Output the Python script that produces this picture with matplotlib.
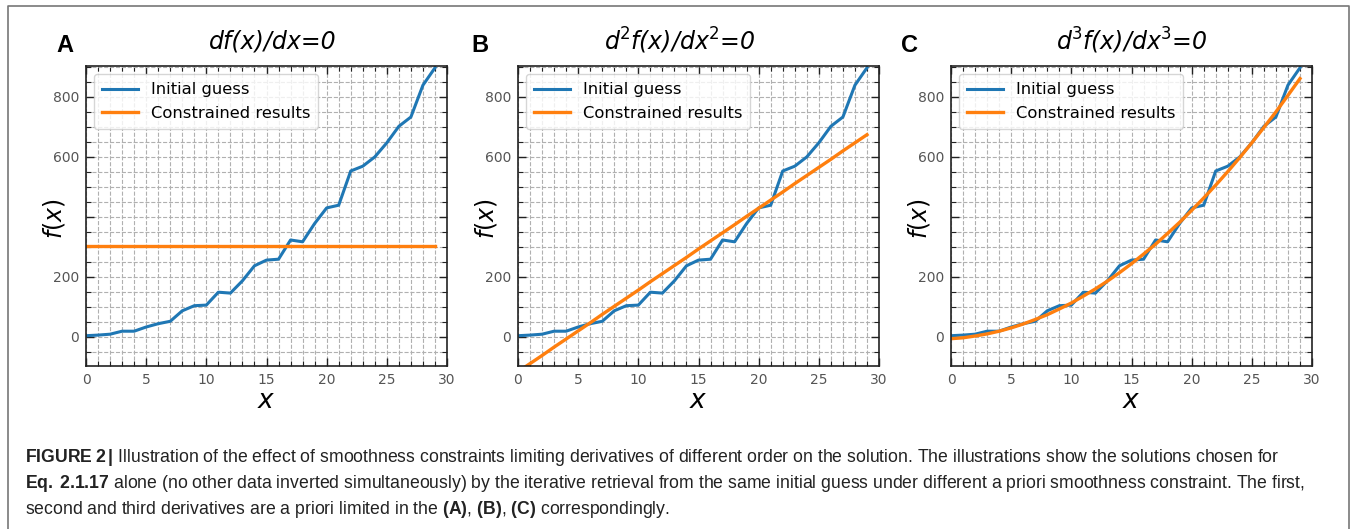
import matplotlib
matplotlib.use("Agg")
import matplotlib.pyplot as plt
import matplotlib.ticker as ticker
from matplotlib.lines import Line2D

W, H = 1356, 529

# ── Data ──────────────────────────────────────────────────────────────────────
x_vals = list(range(30))
initial_guess = [4, 6, 9, 19, 19, 33, 44, 52, 87, 104, 106, 149, 146, 187, 237,
                 256, 259, 323, 317, 378, 430, 439, 553, 569, 600, 647, 702, 733,
                 839, 897]
constrained_1st = [302] * 30
constrained_2nd = [-116, -89, -62, -34, -7, 20, 47, 75, 102, 129, 156, 184, 211,
                   238, 265, 293, 320, 347, 374, 402, 429, 456, 483, 511, 538, 565,
                   592, 620, 647, 674]
constrained_3rd = [-6, -3, 3, 10, 19, 30, 43, 58, 74, 93, 113, 136, 160, 186, 214,
                   244, 276, 309, 345, 382, 422, 463, 506, 551, 598, 647, 698, 750,
                   805, 861]

panels = ["A", "B", "C"]
titles = ["df(x)/dx=0", "d$^2$f(x)/dx$^2$=0", "d$^3$f(x)/dx$^3$=0"]
results = [constrained_1st, constrained_2nd, constrained_3rd]
ytick_vals = [0, 200, 400, 600, 800]
ytick_labels = ["0", "200", "", "600", "800"]

caption = [
    r"$\mathbf{FIGURE\;2\,|}$ Illustration of the effect of smoothness constraints limiting derivatives of different order on the solution. The illustrations show the solutions chosen for",
    r"$\mathbf{Eq.\;2.1.17}$ alone (no other data inverted simultaneously) by the iterative retrieval from the same initial guess under different a priori smoothness constraint. The first,",
    r"second and third derivatives are a priori limited in the $\mathbf{(A)}$, $\mathbf{(B)}$, $\mathbf{(C)}$ correspondingly.",
]

# ── Layout (pixels) ───────────────────────────────────────────────────────────
ax_left = [86, 518, 951]
ax_top, ax_w, ax_h = 66, 361, 300
letter_x = [65, 480, 910]
title_x = [273, 680, 1132]

cap_font = "Liberation Sans"
plt.rcParams["mathtext.fontset"] = "custom"
plt.rcParams["mathtext.rm"] = cap_font
plt.rcParams["mathtext.bf"] = cap_font + ":bold"
plt.rcParams["mathtext.it"] = cap_font + ":italic"

fig = plt.figure(figsize=(W / 100, H / 100), dpi=100, facecolor="white")

for i in range(3):
    ax = fig.add_axes([ax_left[i] / W, 1 - (ax_top + ax_h) / H, ax_w / W, ax_h / H])
    ax.plot(x_vals, initial_guess, color="#1f77b4", linewidth=2.2, label="Initial guess")
    ax.plot(x_vals, results[i], color="#ff7f0e", linewidth=2.4, label="Constrained results")
    ax.set_xlim(0, 30)
    ax.set_ylim(-97, 903)
    ax.xaxis.set_major_locator(ticker.MultipleLocator(5))
    ax.xaxis.set_minor_locator(ticker.MultipleLocator(1))
    ax.set_yticks(ytick_vals)
    ax.set_yticklabels(ytick_labels)
    ax.yaxis.set_minor_locator(ticker.MultipleLocator(50))
    ax.tick_params(which="both", direction="in", top=True, right=True,
                   color="#222222", labelsize=10, labelcolor="#555555")
    ax.tick_params(which="major", length=6, width=1.0, pad=5)
    ax.tick_params(which="minor", length=3.5, width=0.8)
    ax.grid(which="both", linestyle="--", color="#b0b0b0", linewidth=0.8)
    for sp in ax.spines.values():
        sp.set_color("#222222")
        sp.set_linewidth(1.2)
    ax.set_xlabel(r"$x$", fontsize=19, labelpad=1, math_fontfamily="dejavusans")
    ax.set_ylabel(r"$f(x)$", fontsize=17, math_fontfamily="dejavusans")
    ax.yaxis.set_label_coords(-19 / ax_w, 0.49)
    ax.legend(loc="upper left", fontsize=11.8, handlelength=2.2, borderpad=0.5,
              labelspacing=0.5, handletextpad=0.75, borderaxespad=0.5)

    fig.text(letter_x[i] / W, 1 - 45 / H, panels[i], fontsize=17, fontweight="bold",
             family="Liberation Sans", ha="center", va="center")
    fig.text(title_x[i] / W, 1 - 41 / H, titles[i], fontsize=17, style="italic",
             family="DejaVu Sans", ha="center", va="center",
             math_fontfamily="dejavusans")

# ── Caption, scaled so the first line spans the reference width ──────────────
renderer = fig.canvas.get_renderer()
probe = fig.text(0, 0, caption[0], fontsize=12, family=cap_font, math_fontfamily="custom")
cap_size = 12 * 1254 / probe.get_window_extent(renderer).width
probe.remove()
for line, y in zip(caption, [458, 484, 509]):
    fig.text(25 / W, 1 - y / H, line, fontsize=cap_size, family=cap_font,
             color="#222222", va="center", math_fontfamily="custom")

# ── Frame around figure ──────────────────────────────────────────────────────
frame_x = [8 / W, 8 / W, 1349 / W, 1349 / W]
frame_y = [0, 1 - 6 / H, 1 - 6 / H, 0]
fig.add_artist(Line2D(frame_x, frame_y, color="#777777", linewidth=1.2,
                      transform=fig.transFigure))

fig.savefig("out.png", dpi=100, facecolor="white")
